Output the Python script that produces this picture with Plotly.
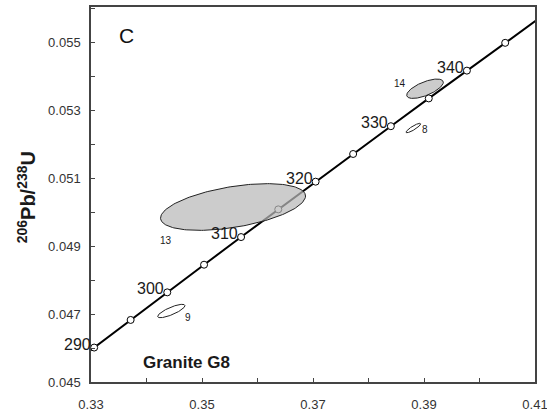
import numpy as np
import plotly.graph_objects as go

# Concordia reference points (age in Ma, 207Pb/235U, 206Pb/238U)
ages = [285, 290, 295, 300, 305, 310, 315, 320, 325, 330, 335, 340, 345, 350]
conc_x = [0.32403, 0.33057, 0.33714, 0.34374, 0.35037, 0.35704, 0.36374,
          0.37047, 0.37723, 0.38403, 0.39086, 0.39773, 0.40463, 0.41156]
conc_y = [0.045202, 0.046013, 0.046825, 0.047637, 0.048450, 0.049263, 0.050078,
          0.050892, 0.051707, 0.052524, 0.053341, 0.054158, 0.054976, 0.055794]
marker_ages = [290, 295, 300, 305, 310, 315, 320, 325, 330, 335, 340, 345]
label_ages = [290, 300, 310, 320, 330, 340]

# Axis ticks
x_major = [0.33, 0.35, 0.37, 0.39, 0.41]
x_minor = [0.34, 0.36, 0.38, 0.40]
y_major = [0.045, 0.047, 0.049, 0.051, 0.053, 0.055]
y_minor = [0.046, 0.048, 0.050, 0.052, 0.054, 0.056]

# Analysis ellipses: name, centre x, centre y, sigma x, sigma y, rho, filled
ell_names = ["13", "14", "8", "9"]
ell_cx = [0.35559, 0.39018, 0.38808, 0.34447]
ell_cy = [0.050147, 0.053626, 0.052470, 0.047088]
ell_sx = [0.013063, 0.00330, 0.00132, 0.00246]
ell_sy = [0.000687, 0.000285, 0.000138, 0.000197]
ell_rho = [0.47, 0.66, 0.88, 0.80]
ell_filled = [True, True, False, False]
ell_label_x = [0.34346, 0.38568, 0.39018, 0.34753]
ell_label_y = [0.049176, 0.053794, 0.052441, 0.046912]

FONT = "Liberation Sans, Arial, sans-serif"

fig = go.Figure()

fig.add_trace(go.Scatter(x=conc_x, y=conc_y, mode="lines",
                         line=dict(color="black", width=2), hoverinfo="skip",
                         showlegend=False))
mx = [conc_x[ages.index(a)] for a in marker_ages]
my = [conc_y[ages.index(a)] for a in marker_ages]
fig.add_trace(go.Scatter(x=mx, y=my, mode="markers",
                         marker=dict(symbol="circle", size=7, color="white",
                                     line=dict(color="black", width=1)),
                         showlegend=False))

t = np.linspace(0, 2 * np.pi, 200)
for i in range(len(ell_names)):
    ex = ell_cx[i] + ell_sx[i] * np.cos(t)
    ey = ell_cy[i] + ell_sy[i] * (ell_rho[i] * np.cos(t) + np.sqrt(1 - ell_rho[i] ** 2) * np.sin(t))
    fig.add_trace(go.Scatter(
        x=ex, y=ey, mode="lines",
        fill="toself" if ell_filled[i] else "none",
        fillcolor="rgba(185,185,185,0.72)",
        line=dict(color="#222222", width=1), showlegend=False, hoverinfo="skip"))

annotations = []
for a in label_ages:
    annotations.append(dict(x=conc_x[ages.index(a)], y=conc_y[ages.index(a)],
                            text=str(a), showarrow=False, xanchor="right", yanchor="bottom",
                            xshift=-1, yshift=-7,
                            font=dict(family=FONT, size=16, color="#1a1a1a")))
for i in range(len(ell_names)):
    annotations.append(dict(x=ell_label_x[i], y=ell_label_y[i], text=ell_names[i],
                            showarrow=False, xanchor="center", yanchor="middle",
                            font=dict(family=FONT, size=10, color="#1a1a1a")))
annotations.append(dict(x=0.33631, y=0.055206, text="C", showarrow=False,
                        xanchor="center", yanchor="middle",
                        font=dict(family=FONT, size=21, color="#111111")))
annotations.append(dict(x=0.34721, y=0.045588, text="<b>Granite G8</b>", showarrow=False,
                        xanchor="center", yanchor="middle",
                        font=dict(family=FONT, size=17, color="#1a1a1a")))
annotations.append(dict(x=-0.146, y=0.493, xref="paper", yref="paper",
                        text="<b><sup>206</sup>Pb/<sup>238</sup>U</b>", showarrow=False,
                        textangle=-90, xanchor="center", yanchor="middle",
                        font=dict(family=FONT, size=20, color="#1a1a1a")))

axis_common = dict(showline=True, linecolor="#444444", linewidth=1.5, mirror=True,
                   ticks="inside", ticklen=4, tickcolor="#444444", showgrid=False,
                   zeroline=False, ticklabeloverflow="allow", automargin=False,
                   tickfont=dict(family=FONT, size=13, color="#333333"))

fig.update_layout(
    width=547, height=414,
    margin=dict(l=91, r=12, t=7, b=32, autoexpand=False),
    plot_bgcolor="white", paper_bgcolor="white",
    xaxis=dict(range=[0.33, 0.41], tickmode="array", tickvals=x_major,
               ticktext=[f"{v:.2f}" for v in x_major],
               minor=dict(tickmode="array", tickvals=x_minor, ticks="inside",
                          ticklen=4, tickcolor="#444444"),
               ticklabelstandoff=10, **axis_common),
    yaxis=dict(range=[0.045, 0.05603], tickmode="array", tickvals=y_major,
               ticktext=[f"{v:.3f}" for v in y_major],
               minor=dict(tickmode="array", tickvals=y_minor, ticks="inside",
                          ticklen=4, tickcolor="#444444"),
               ticklabelstandoff=6, **axis_common),
    annotations=annotations,
)

fig.write_html("out.html")
